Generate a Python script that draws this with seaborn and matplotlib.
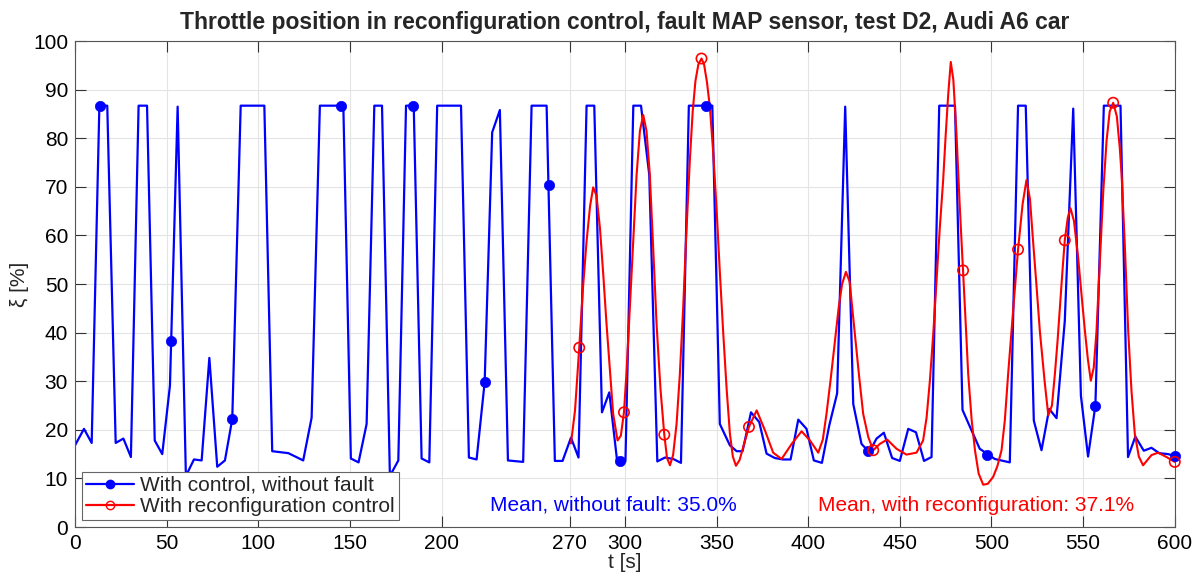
import matplotlib
matplotlib.use('Agg')
import matplotlib.pyplot as plt
from matplotlib.lines import Line2D
import seaborn as sns

# [1. data]
t_blue = [0, 4.9, 9.1, 13.3, 17.6, 22.2, 26.4, 30.5, 34.7, 39.3, 43.5, 47.6, 51.8, 56.0,
          60.5, 64.9, 69.1, 73.3, 77.6, 81.8, 85.8, 90.4, 103.3, 107.6, 116.4, 124.5, 129.1,
          133.6, 146.4, 150.5, 154.7, 159.1, 163.3, 167.5, 171.8, 176.4, 180.6, 184.8, 189.1,
          193.3, 197.6, 210.6, 214.9, 219.1, 223.5, 227.6, 231.8, 236.2, 244.5, 249.1, 257.3,
          261.8, 266.0, 270.6, 274.7, 279.1, 283.3, 287.5, 291.5, 295.8, 300.3, 304.6, 308.8,
          313.3, 317.7, 321.9, 326.4, 330.6, 334.9, 347.7, 351.8, 357.3, 361.0, 364.2, 368.8,
          373.3, 377.3, 381.8, 386.1, 390.4, 394.6, 399.1, 403.1, 407.5, 411.5, 415.8, 420.2,
          424.6, 429.1, 433.3, 437.3, 441.3, 445.8, 450.0, 454.6, 458.8, 463.2, 467.3, 471.5,
          480.1, 484.2, 489.1, 493.6, 501.8, 510.0, 514.5, 518.7, 523.1, 527.3, 531.5, 535.5,
          540.0, 544.6, 548.8, 552.7, 556.7, 561.3, 570.4, 574.5, 578.5, 583.1, 587.3, 591.5,
          596.4, 600]
xi_blue = [16.8, 20.2, 17.3, 86.7, 86.7, 17.3, 18.2, 14.4, 86.7, 86.7, 17.8, 15.0, 29.1, 86.5,
           10.5, 13.9, 13.7, 34.8, 12.4, 13.7, 22.2, 86.7, 86.7, 15.6, 15.2, 13.7, 22.5,
           86.7, 86.7, 14.1, 13.3, 21.2, 86.7, 86.7, 10.5, 13.7, 86.7, 86.7, 14.1,
           13.3, 86.7, 86.7, 14.3, 13.9, 29.8, 81.2, 85.8, 13.7, 13.4, 86.7, 86.7,
           13.6, 13.6, 18.4, 14.3, 86.7, 86.7, 23.6, 27.7, 13.5, 13.5, 86.7, 86.7,
           72.5, 13.5, 14.3, 14.0, 13.2, 86.7, 86.7, 21.2, 16.8, 15.6, 15.6, 23.6,
           21.6, 15.1, 14.2, 13.9, 13.9, 22.1, 20.2, 13.7, 13.2, 20.9, 27.5, 86.5,
           25.3, 17.1, 15.4, 18.2, 19.4, 14.2, 13.6, 20.2, 19.5, 13.6, 14.4, 86.7,
           86.7, 24.1, 19.9, 16.1, 14.0, 13.3, 86.7, 86.7, 21.9, 15.8, 24.3, 22.4,
           42.4, 86.1, 27.0, 14.5, 25.0, 86.7, 86.7, 14.4, 18.6, 15.7, 16.3, 15.2,
           15.0, 14.6]
t_blue_mk = [13.6, 52.6, 85.8, 145.1, 184.6, 223.5, 258.6, 297.3, 344.0, 432.4, 497.3, 556.7, 600]
xi_blue_mk = [86.7, 38.3, 22.2, 86.7, 86.7, 29.8, 70.3, 13.5, 86.7, 15.6, 14.9, 25.0, 14.6]

t_red = [270.6, 272.8, 275.1, 277.2, 279.1, 281.0, 282.7, 284.5, 286.4, 288.2, 290.0, 293.6,
         296.0, 297.8, 299.5, 301.0, 302.7, 304.6, 306.4, 308.2, 310.0, 311.8, 313.6, 315.5,
         317.3, 319.4, 321.5, 323.0, 324.6, 326.3, 328.2, 330.0, 331.8, 333.6, 335.5, 337.0,
         338.5, 340.1, 341.8, 343.2, 344.8, 346.4, 348.2, 350.0, 351.8, 353.6, 355.5, 357.3,
         358.9, 360.6, 362.6, 364.6, 367.7, 371.9, 376.4, 380.9, 385.5, 391.0, 396.4, 401.0,
         405.5, 408.0, 410.0, 412.3, 414.6, 416.6, 418.5, 420.6, 422.6, 425.5, 427.8, 430.0,
         432.8, 435.5, 439.1, 443.1, 448.2, 453.6, 459.1, 462.7, 464.6, 466.4, 468.2, 470.0,
         471.8, 473.6, 475.0, 476.4, 477.8, 479.2, 480.9, 482.7, 484.5, 486.0, 487.3, 489.2,
         491.0, 493.0, 495.5, 498.0, 500.9, 503.2, 505.5, 507.3, 509.1, 511.8, 514.5, 517.0,
         519.1, 521.0, 522.7, 524.6, 526.4, 529.0, 531.0, 533.0, 534.6, 536.0, 537.3, 538.7,
         540.0, 541.6, 543.1, 545.0, 547.3, 549.2, 551.0, 552.6, 554.2, 555.8, 557.3, 559.1,
         561.0, 562.8, 564.5, 566.4, 568.4, 570.0, 571.0, 572.8, 574.6, 576.4, 578.2, 580.4,
         582.7, 587.3, 590.9, 595.5, 600]
xi_red = [17.2, 24.0, 36.9, 49.5, 58.8, 66.0, 69.9, 68.2, 61.5, 52.0, 41.7, 23.3,
          17.8, 18.8, 23.6, 32.5, 45.1, 59.5, 72.5, 81.5, 84.8, 81.5, 72.5, 57.0,
          41.7, 28.5, 19.0, 14.2, 12.7, 14.8, 21.2, 31.5, 45.1, 61.0, 75.9, 85.5,
          91.8, 95.2, 96.4, 95.2, 91.5, 86.3, 77.0, 65.6, 52.5, 40.3, 28.5, 19.2,
          14.5, 12.6, 13.8, 16.5, 20.6, 24.0, 19.9, 15.3, 14.0, 17.1, 19.7, 17.8,
          15.3, 18.0, 23.3, 30.5, 38.3, 45.0, 50.0, 52.5, 50.5, 39.7, 31.0, 23.3,
          18.5, 15.8, 17.1, 18.0, 16.1, 14.9, 15.3, 17.8, 22.5, 30.1, 39.5, 50.6,
          61.5, 71.1, 80.5, 89.0, 95.7, 92.0, 81.0, 66.0, 52.8, 41.5, 31.5, 22.0,
          15.8, 11.0, 8.7, 8.9, 10.3, 12.5, 15.8, 22.0, 31.5, 44.5, 57.1, 66.5,
          71.4, 67.5, 58.8, 49.5, 40.3, 30.0, 23.0, 25.0, 31.5, 38.0, 45.1, 52.5,
          59.0, 63.6, 65.6, 63.0, 55.4, 47.5, 40.3, 34.5, 30.1, 32.8, 40.3, 54.5,
          69.1, 79.5, 85.5, 87.3, 84.5, 78.0, 72.5, 57.5, 40.3, 28.0, 19.2, 14.5,
          12.7, 14.8, 15.3, 14.4, 13.4]
t_red_mk = [275.1, 299.5, 321.5, 341.8, 367.7, 435.5, 484.5, 514.5, 540.0, 566.4, 600]
xi_red_mk = [36.9, 23.6, 19.0, 96.4, 20.6, 15.8, 52.8, 57.1, 59.0, 87.3, 13.4]

x_ticks = [0, 50, 100, 150, 200, 270, 300, 350, 400, 450, 500, 550, 600]
y_ticks = list(range(0, 101, 10))

mean_blue = 'Mean, without fault: 35.0%'
mean_red = 'Mean, with reconfiguration: 37.1%'

# [2. style]
sns.set_style('ticks')
plt.rcParams['font.family'] = ['Liberation Sans', 'DejaVu Sans']
BLUE = '#0000ff'
RED = '#ff0000'

fig = plt.figure(figsize=(11.98, 5.78), dpi=100)
ax = fig.add_axes([0.0626, 0.0882, 0.918, 0.8408])

# [3. lines + markers]
sns.lineplot(x=t_blue, y=xi_blue, color=BLUE, linewidth=1.6, sort=False, estimator=None, ax=ax)
sns.lineplot(x=t_red, y=xi_red, color=RED, linewidth=1.5, sort=False, estimator=None, ax=ax)
sns.scatterplot(x=t_blue_mk, y=xi_blue_mk, color=BLUE, s=55, edgecolor=BLUE, linewidth=0.5,
                zorder=4, ax=ax, clip_on=False)
sns.scatterplot(x=t_red_mk, y=xi_red_mk, fc='none', ec=RED, s=55, linewidth=1.2,
                zorder=4, ax=ax, clip_on=False)

# [4. axes]
ax.set_xlim(0, 600)
ax.set_ylim(0, 100)
ax.set_xticks(x_ticks)
ax.set_yticks(y_ticks)
ax.tick_params(direction='in', length=8, width=0.8, top=True, right=True,
               labelsize=15, colors='#333333', labelcolor='black', pad=5)
ax.grid(True, color='#e4e4e4', linewidth=0.8)
for s in ax.spines.values():
    s.set_visible(True)
    s.set_color('#555555')
    s.set_linewidth(0.8)

ax.set_xlabel('t [s]', fontsize=15, labelpad=0)
ax.set_ylabel('ξ [%]', fontsize=15, labelpad=3)
ax.set_title('Throttle position in reconfiguration control, fault MAP sensor, test D2, Audi A6 car',
             fontsize=16.5, fontweight='bold', pad=9)

ax.text(226.4, 4.5, mean_blue, color=BLUE, fontsize=15, ha='left', va='center')
ax.text(405.3, 4.5, mean_red, color=RED, fontsize=15, ha='left', va='center')

handles = [
    Line2D([], [], color=BLUE, lw=1.6, marker='o', ms=6, mfc=BLUE, mec=BLUE),
    Line2D([], [], color=RED, lw=1.6, marker='o', ms=6, mfc='none', mec=RED),
]
leg = ax.legend(handles, ['With control, without fault', 'With reconfiguration control'],
                loc='lower left', bbox_to_anchor=(0.006, 0.014), borderaxespad=0,
                fontsize=15, fancybox=False, framealpha=1, edgecolor='#666666',
                handlelength=2.3, labelspacing=0.1, borderpad=0.2, handletextpad=0.3)
leg.get_frame().set_linewidth(0.8)
leg.set_zorder(5)

plt.savefig('out.png', dpi=100)
